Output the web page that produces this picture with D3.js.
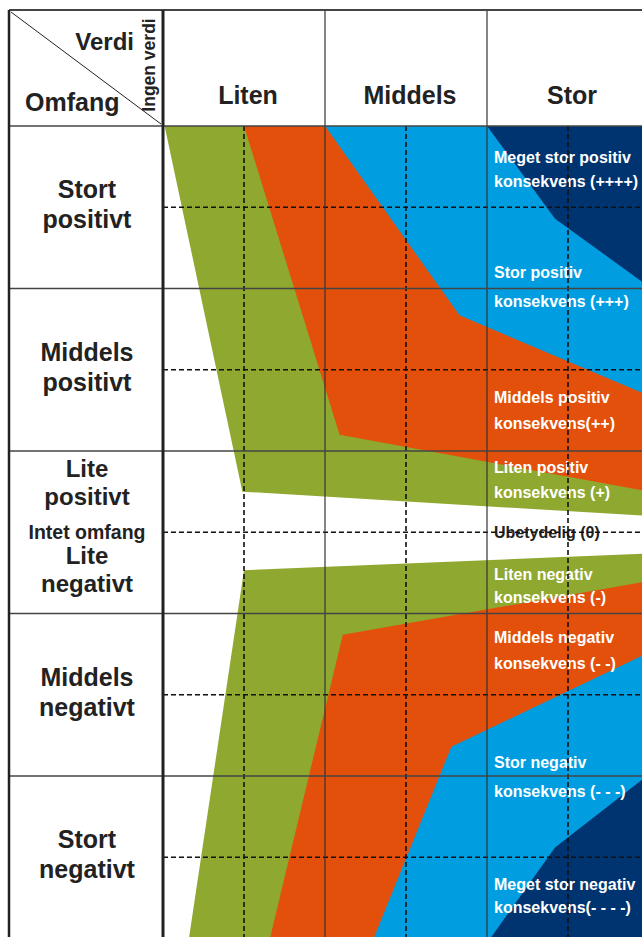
<!DOCTYPE html>
<html>
<head>
<meta charset="utf-8">
<script src="https://cdn.jsdelivr.net/npm/d3@7"></script>
<style>
  body { margin: 0; background: #fff; }
  text { font-family: "Liberation Sans", Arial, sans-serif; font-weight: bold; }
</style>
</head>
<body>
<svg id="chart"></svg>
<script>
// 1) Data ------------------------------------------------------------
const columns = ['Liten', 'Middels', 'Stor'];

// omfang rows, each centred on a value of the y scale (+2 ... -2)
const rowNames = [['Stort', 'positivt'], ['Middels', 'positivt'], null, ['Middels', 'negativt'], ['Stort', 'negativt']];
const rowValues = [2, 1, 0, -1, -2];
const middleRow = [['Lite', 'positivt'], 'Intet omfang', ['Lite', 'negativt']];

// bands of konsekvens, from the weakest to the strongest
const bandNames = ['Liten', 'Middels', 'Stor', 'Meget stor'];
const bandColors = ['#8fa830', '#e3500c', '#009ee0', '#003470'];

// boundary of each band: [verdi, omfang]
const upperEdges = [
  [[0.01, 2.5], [0.49, 0.25], [3, 0.10]],
  [[0.50, 2.5], [1.09, 0.60], [3, 0.25]],
  [[1.00, 2.5], [1.83, 1.335], [3, 0.84]],
  [[2.00, 2.5], [2.42, 1.93], [3, 1.51]]
];
const lowerEdges = [
  [[0.16, -2.5], [0.50, -0.234], [3, -0.13]],
  [[0.66, -2.5], [1.11, -0.63], [3, -0.30]],
  [[1.30, -2.5], [1.78, -1.32], [3, -0.74]],
  [[2.02, -2.5], [2.42, -1.94], [3, -1.49]]
];

// konsekvens labels and the omfang value of each line
const labelLines = [
  ['Meget stor positiv', 'konsekvens (++++)'],
  ['Stor positiv', 'konsekvens (+++)'],
  ['Middels positiv', 'konsekvens(++)'],
  ['Liten positiv', 'konsekvens (+)'],
  ['Ubetydelig (0)'],
  ['Liten negativ', 'konsekvens (-)'],
  ['Middels negativ', 'konsekvens (- -)'],
  ['Stor negativ', 'konsekvens (- - -)'],
  ['Meget stor negativ', 'konsekvens(- - - -)']
];
const labelLevels = [
  [2.272, 2.125], [1.565, 1.386], [0.795, 0.635], [0.365, 0.211],
  [-0.035],
  [-0.294, -0.435], [-0.682, -0.842], [-1.451, -1.629], [-2.202, -2.343]
];

// 2) Dimensions ------------------------------------------------------
const width = 642;
const height = 937;
const svg = d3.select('#chart')
  .attr('width', width)
  .attr('height', height);

const x = d3.scaleLinear().domain([0, 3]).range([163, 649]);
const y = d3.scaleLinear().domain([2.5, -2.5]).range([126, 938.5]);
const frameLeft = 9;
const frameTop = 10;

// 3) Bands -----------------------------------------------------------
const line = d3.line().x(d => x(d[0])).y(d => y(d[1]));

bandNames.forEach((name, i) => {
  const up = upperEdges[i].concat([[3, 2.5]]);
  const down = lowerEdges[i].concat([[3, -2.5]]);
  svg.append('path').attr('d', line(up) + 'Z').attr('fill', bandColors[i]);
  svg.append('path').attr('d', line(down) + 'Z').attr('fill', bandColors[i]);
});

// 4) Konsekvens labels -----------------------------------------------
labelLines.forEach((lines, i) => {
  lines.forEach((t, j) => {
    svg.append('text')
      .attr('x', x(2) + 7)
      .attr('y', y(labelLevels[i][j]))
      .attr('font-size', 16)
      .attr('fill', lines.length === 1 ? '#222' : '#fff')
      .text(t);
  });
});

// 5) Grid ------------------------------------------------------------
const halfSteps = [0.5, 1.5, 2.5];
svg.selectAll('.vdash')
  .data(halfSteps)
  .enter().append('line')
  .attr('x1', d => x(d)).attr('x2', d => x(d))
  .attr('y1', y(2.5)).attr('y2', height)
  .attr('stroke', '#111').attr('stroke-width', 1.6)
  .attr('stroke-dasharray', '5,3');

svg.selectAll('.hdash')
  .data(rowValues)
  .enter().append('line')
  .attr('x1', x(0)).attr('x2', width)
  .attr('y1', d => y(d)).attr('y2', d => y(d))
  .attr('stroke', '#111').attr('stroke-width', 1.6)
  .attr('stroke-dasharray', '5,3');

svg.selectAll('.vsolid')
  .data([1, 2])
  .enter().append('line')
  .attr('x1', d => x(d)).attr('x2', d => x(d))
  .attr('y1', frameTop).attr('y2', height)
  .attr('stroke', '#333').attr('stroke-width', 1.2);

svg.selectAll('.hsolid')
  .data([2.5, 1.5, 0.5, -0.5, -1.5])
  .enter().append('line')
  .attr('x1', frameLeft).attr('x2', width)
  .attr('y1', d => y(d)).attr('y2', d => y(d))
  .attr('stroke', '#444').attr('stroke-width', 1.5);

// frame
svg.append('line')
  .attr('x1', frameLeft).attr('x2', width).attr('y1', frameTop).attr('y2', frameTop)
  .attr('stroke', '#444').attr('stroke-width', 2);
svg.append('line')
  .attr('x1', frameLeft).attr('x2', frameLeft).attr('y1', frameTop).attr('y2', height)
  .attr('stroke', '#222').attr('stroke-width', 2.5);
svg.append('line')
  .attr('x1', x(0)).attr('x2', x(0)).attr('y1', frameTop).attr('y2', height)
  .attr('stroke', '#222').attr('stroke-width', 3);
svg.append('line')
  .attr('x1', frameLeft + 2).attr('y1', frameTop + 2).attr('x2', x(0) - 2).attr('y2', y(2.5) - 2)
  .attr('stroke', '#222').attr('stroke-width', 1);

// 6) Header ----------------------------------------------------------
svg.append('text').attr('x', 134).attr('y', 50).attr('text-anchor', 'end')
  .attr('font-size', 24).attr('fill', '#222').text('Verdi');
svg.append('text').attr('x', 25).attr('y', 111)
  .attr('font-size', 25).attr('fill', '#222').text('Omfang');
svg.append('text')
  .attr('transform', `translate(155,65) rotate(-90)`)
  .attr('text-anchor', 'middle')
  .attr('font-size', 17.5).attr('font-weight', 'normal').attr('fill', '#222')
  .text('Ingen verdi');

svg.selectAll('.colhead')
  .data(columns)
  .enter().append('text')
  .attr('x', (d, i) => x(i + 0.5) + 4)
  .attr('y', 104)
  .attr('text-anchor', 'middle')
  .attr('font-size', 25)
  .attr('fill', '#222')
  .text(d => d);

// 7) Omfang labels ---------------------------------------------------
rowNames.forEach((r, i) => {
  if (!r) return;
  r.forEach((t, j) => {
    svg.append('text')
      .attr('x', 87)
      .attr('y', y(rowValues[i]) - 9 + j * 30)
      .attr('text-anchor', 'middle')
      .attr('font-size', 25)
      .attr('fill', '#222')
      .text(t);
  });
});

const mid = y(0);
middleRow[0].forEach((t, j) => {
  svg.append('text').attr('x', 87).attr('y', mid - 55 + j * 28)
    .attr('text-anchor', 'middle').attr('font-size', 24).attr('fill', '#222').text(t);
});
svg.append('text').attr('x', 87).attr('y', mid + 7)
  .attr('text-anchor', 'middle').attr('font-size', 19.5).attr('fill', '#222').text(middleRow[1]);
middleRow[2].forEach((t, j) => {
  svg.append('text').attr('x', 87).attr('y', mid + 32 + j * 28)
    .attr('text-anchor', 'middle').attr('font-size', 24).attr('fill', '#222').text(t);
});
</script>
</body>
</html>
